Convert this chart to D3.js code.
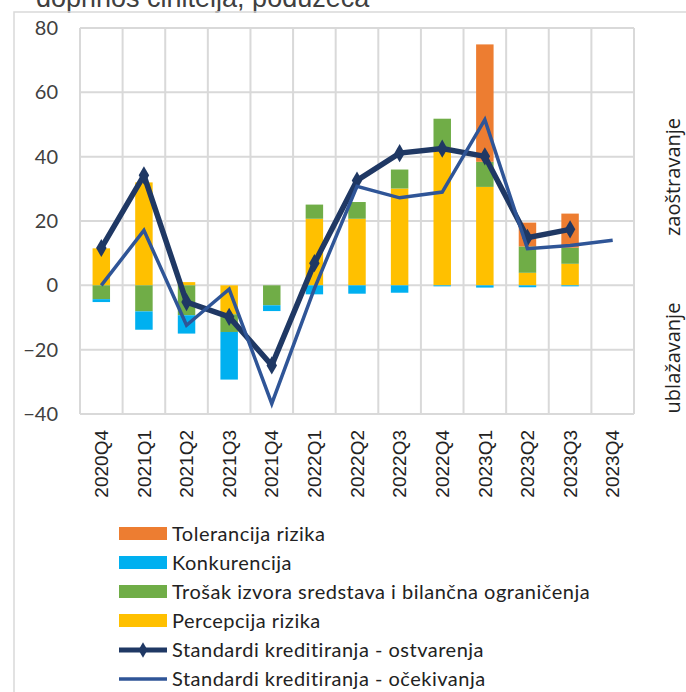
<!DOCTYPE html>
<html>
<head>
<meta charset="utf-8">
<script src="https://cdn.jsdelivr.net/npm/d3@7"></script>
<style>
  body { margin: 0; background: #fff; }
  svg { display: block; }
</style>
</head>
<body>
<svg id="chart" width="686" height="692"></svg>
<script>
// Quarters on the category axis
const quarters = ["2020Q4", "2021Q1", "2021Q2", "2021Q3", "2021Q4", "2022Q1", "2022Q2",
                  "2022Q3", "2022Q4", "2023Q1", "2023Q2", "2023Q3", "2023Q4"];

// Factor contributions (stacked bars)
const percepcija   = [11.5, 32.0, 1.0, -9.0, 0, 20.7, 20.7, 30.1, 43.0, 30.6, 3.9, 6.7, 0];
const trosak       = [-4.3, -8.1, -9.3, -5.5, -6.2, 4.4, 5.2, 5.9, 8.8, 7.8, 8.2, 5.0, 0];
const konkurencija = [-0.9, -5.7, -5.7, -14.8, -1.8, -2.8, -2.6, -2.3, -0.3, -0.7, -0.6, -0.3, 0];
const tolerancija  = [0, 0, 0, 0, 0, 0, 0, 0, 0, 36.5, 7.4, 10.6, 0];

// Credit standards: realised and expected
const ostvarenja = [11.6, 34.2, -5.2, -9.8, -24.9, 6.9, 32.6, 41.1, 42.5, 40.1, 14.8, 17.4, null];
const ocekivanja = [0, 17.1, -12.4, -1.2, -36.8, -1.0, 30.8, 27.2, 29.0, 51.5, 11.4, 12.4, 14.0];

// Axis ticks and labels
const yTicks = [-40, -20, 0, 20, 40, 60, 80];
const titleText = "doprinos činitelja, poduzeća";
const sideLabels = ["zaoštravanje", "ublažavanje"];
const legendNames = ["Tolerancija rizika", "Konkurencija",
                     "Trošak izvora sredstava i bilančna ograničenja", "Percepcija rizika",
                     "Standardi kreditiranja - ostvarenja", "Standardi kreditiranja - očekivanja"];

const colors = {
  percepcija: "#FFC000",
  trosak: "#70AD47",
  konkurencija: "#00B0F0",
  tolerancija: "#ED7D31",
  ostvarenja: "#1F3864",
  ocekivanja: "#2F5597"
};
const gridColor = "#d9d9d9";

const svg = d3.select("#chart");

// Title sitting above the chart frame (its top runs off the page)
svg.append("text")
  .attr("x", 36).attr("y", 7)
  .attr("font-family", "Liberation Sans, Arial, sans-serif")
  .attr("font-size", 27)
  .attr("fill", "#404040")
  .text(titleText);

svg.append("rect")
  .attr("x", 14).attr("y", 12)
  .attr("width", 700).attr("height", 700)
  .attr("fill", "none")
  .attr("stroke", gridColor)
  .attr("stroke-width", 1.5);

const plot = { left: 80, right: 634, top: 28, bottom: 414 };

const x = d3.scaleBand().domain(quarters).range([plot.left, plot.right]).padding(0);
const y = d3.scaleLinear().domain([-40, 80]).range([plot.bottom, plot.top]);

// Grid
const grid = svg.append("g");
grid.selectAll("line.h").data(yTicks).join("line")
  .attr("x1", plot.left).attr("x2", plot.right)
  .attr("y1", d => y(d)).attr("y2", d => y(d))
  .attr("stroke", gridColor).attr("stroke-width", 2);
grid.selectAll("line.v").data(quarters.concat([null])).join("line")
  .attr("x1", d => d === null ? plot.right : x(d))
  .attr("x2", d => d === null ? plot.right : x(d))
  .attr("y1", plot.top).attr("y2", plot.bottom)
  .attr("stroke", gridColor).attr("stroke-width", 2);

// Y axis labels
const yAxis = d3.axisLeft(y).tickValues(yTicks).tickSize(0).tickPadding(0);
const yG = svg.append("g").attr("transform", "translate(58,0)").call(yAxis);
yG.select(".domain").remove();
yG.selectAll("text")
  .attr("font-family", "Lato, sans-serif")
  .attr("font-size", 20)
  .attr("fill", "#404040");

// X axis labels (rotated)
const xAxis = d3.axisBottom(x).tickSize(0).tickPadding(0);
const xG = svg.append("g").attr("transform", `translate(0,${plot.bottom})`).call(xAxis);
xG.select(".domain").remove();
xG.selectAll("text")
  .attr("transform", "rotate(-90)")
  .attr("x", -16).attr("y", 0).attr("dy", "0.35em")
  .attr("text-anchor", "end")
  .attr("font-family", "Liberation Sans, Arial, sans-serif")
  .attr("font-size", 19)
  .attr("fill", "#222");

// Stacked bars
const keys = ["percepcija", "trosak", "konkurencija", "tolerancija"];
const series = { percepcija, trosak, konkurencija, tolerancija };
const rows = quarters.map((q, i) => {
  const r = { q };
  keys.forEach(k => r[k] = series[k][i]);
  return r;
});
const stacked = d3.stack().keys(keys)
  .order(d3.stackOrderNone)
  .offset(d3.stackOffsetDiverging)(rows);

const barW = x.bandwidth() * 0.41;
svg.append("g").selectAll("g").data(stacked).join("g")
  .attr("fill", d => colors[d.key])
  .selectAll("rect").data(d => d).join("rect")
  .attr("x", d => x(d.data.q) + (x.bandwidth() - barW) / 2)
  .attr("width", barW)
  .attr("y", d => y(Math.max(d[0], d[1])))
  .attr("height", d => Math.abs(y(d[0]) - y(d[1])));

// Lines
const cx = q => x(q) + x.bandwidth() / 2;
const line = d3.line()
  .defined(d => d.v !== null)
  .x(d => cx(d.q))
  .y(d => y(d.v));

const ostPts = quarters.map((q, i) => ({ q, v: ostvarenja[i] }));
const ocePts = quarters.map((q, i) => ({ q, v: ocekivanja[i] }));

svg.append("path").datum(ostPts)
  .attr("d", line)
  .attr("fill", "none")
  .attr("stroke", colors.ostvarenja)
  .attr("stroke-width", 5.5);

svg.append("g").selectAll("path").data(ostPts.filter(d => d.v !== null)).join("path")
  .attr("transform", d => `translate(${cx(d.q)},${y(d.v)})`)
  .attr("d", d3.symbol(d3.symbolDiamond, 95))
  .attr("fill", colors.ostvarenja);

svg.append("path").datum(ocePts)
  .attr("d", line)
  .attr("fill", "none")
  .attr("stroke", colors.ocekivanja)
  .attr("stroke-width", 3.5);

// Side labels
const side = svg.append("g")
  .attr("font-family", "Open Sans, sans-serif")
  .attr("font-size", 20)
  .attr("fill", "#222")
  .attr("text-anchor", "middle");
side.append("text")
  .attr("transform", "translate(680,177) rotate(-90)")
  .text(sideLabels[0]);
side.append("text")
  .attr("transform", "translate(680,358) rotate(-90)")
  .text(sideLabels[1]);

// Legend
const legendItems = [
  { name: legendNames[0], type: "bar", color: colors.tolerancija },
  { name: legendNames[1], type: "bar", color: colors.konkurencija },
  { name: legendNames[2], type: "bar", color: colors.trosak },
  { name: legendNames[3], type: "bar", color: colors.percepcija },
  { name: legendNames[4], type: "marker", color: colors.ostvarenja },
  { name: legendNames[5], type: "line", color: colors.ocekivanja }
];
const lg = svg.append("g").attr("transform", "translate(119,534)");
const item = lg.selectAll("g").data(legendItems).join("g")
  .attr("transform", (d, i) => `translate(0,${i * 29})`);
item.filter(d => d.type === "bar").append("rect")
  .attr("x", 0).attr("y", -7).attr("width", 48).attr("height", 13)
  .attr("fill", d => d.color);
item.filter(d => d.type !== "bar").append("line")
  .attr("x1", 0).attr("x2", 48).attr("y1", 0).attr("y2", 0)
  .attr("stroke", d => d.color)
  .attr("stroke-width", d => d.type === "marker" ? 5 : 3.5);
item.filter(d => d.type === "marker").append("path")
  .attr("transform", "translate(24,0)")
  .attr("d", d3.symbol(d3.symbolDiamond, 70))
  .attr("fill", d => d.color);
item.append("text")
  .attr("x", 53).attr("dy", "0.35em")
  .attr("font-family", "Lato, sans-serif")
  .attr("font-size", 20)
  .attr("letter-spacing", 0.5)
  .attr("fill", "#222")
  .text(d => d.name);
</script>
</body>
</html>
